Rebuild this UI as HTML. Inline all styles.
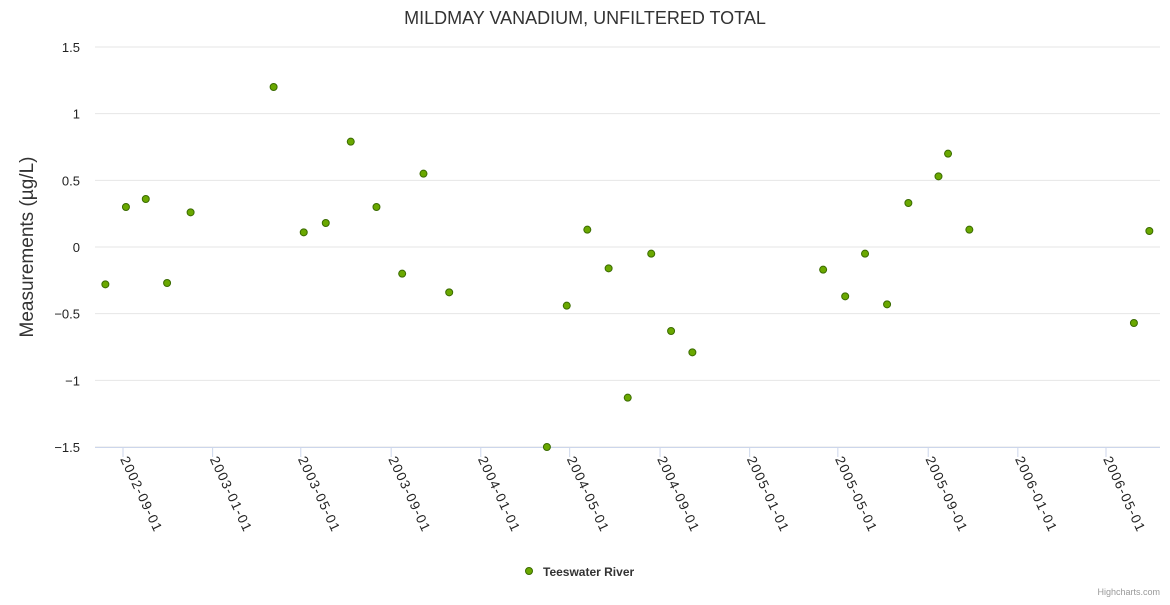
<!DOCTYPE html>
<html><head><meta charset="utf-8"><style>
body{margin:0;background:#fff;font-family:"Liberation Sans",sans-serif}
svg text{font-family:"Liberation Sans",sans-serif}
</style></head><body>
<svg id="c" width="1170" height="600">
<text x="585" y="24" text-anchor="middle" font-size="18" fill="#333">MILDMAY VANADIUM, UNFILTERED TOTAL</text>
<text transform="translate(33,247) rotate(-90)" text-anchor="middle" font-size="19" fill="#333">Measurements (µg/L)</text>
<g id="grid"></g><g id="xax"></g><g id="pts"></g>
<g>
<circle cx="529" cy="571" r="3.5" fill="#6aa800" stroke="#3a6b00" stroke-width="1"/>
<text x="543" y="576" font-size="12" font-weight="bold" fill="#333">Teeswater River</text></g>
<text x="1160" y="595" text-anchor="end" font-size="9" fill="#999">Highcharts.com</text>
</svg>
<script>
const dates=["2002-08-08","2002-09-05","2002-10-02","2002-10-31","2002-12-02","2003-03-25","2003-05-05","2003-06-04","2003-07-08","2003-08-12","2003-09-16","2003-10-15","2003-11-19","2004-03-31","2004-04-27","2004-05-25","2004-06-23","2004-07-19","2004-08-20","2004-09-16","2004-10-15","2005-04-11","2005-05-11","2005-06-07","2005-07-07","2005-08-05","2005-09-15","2005-09-28","2005-10-27","2006-06-08","2006-06-29"];
const values=[-0.28,0.30,0.36,-0.27,0.26,1.20,0.11,0.18,0.79,0.30,-0.20,0.55,-0.34,-1.50,-0.44,0.13,-0.16,-1.13,-0.05,-0.63,-0.79,-0.17,-0.37,-0.05,-0.43,0.33,0.53,0.70,0.13,-0.57,0.12];
const yTicks=[1.5,1,0.5,0,-0.5,-1,-1.5];
const yLabels=["1.5","1","0.5","0","−0.5","−1","−1.5"];
const xTicks=["2002-09-01","2003-01-01","2003-05-01","2003-09-01","2004-01-01","2004-05-01","2004-09-01","2005-01-01","2005-05-01","2005-09-01","2006-01-01","2006-05-01"];
const NS="http://www.w3.org/2000/svg";
const t=d=>Date.parse(d+"T00:00:00Z");
const x0=t("2002-09-01"),x1=t("2006-05-01");
const X=d=>123+(t(d)-x0)/(x1-x0)*(1106-123);
const Y=v=>247-v*133.33;
function mk(tag,p,a){const e=document.createElementNS(NS,tag);for(const k in a)e.setAttribute(k,a[k]);p.appendChild(e);return e;}
const g=document.getElementById('grid');
yTicks.forEach((v,i)=>{
 const l=mk('line',g,{x1:95,x2:1160,y1:Y(v),y2:Y(v),stroke:'#e6e6e6'});
 
 
 const tx=mk('text',g,{x:80,y:Y(v)+5,'text-anchor':'end','font-size':13,fill:'#222'});
 tx.textContent=yLabels[i];
 
 
});
const xa=document.getElementById('xax');
const ax=mk('line',xa,{x1:95,x2:1160,y1:447.5,y2:447.5,stroke:'#ccd6eb'});


xTicks.forEach(d=>{
 const x=X(d);
 const tk=mk('line',xa,{x1:x,x2:x,y1:447,y2:457,stroke:'#ccd6eb'});
 
 
 const tx=mk('text',xa,{transform:`translate(${x-3},${459}) rotate(65)`,'font-size':13.5,'letter-spacing':1.3,fill:'#222'});
 tx.textContent=d;
 
 
});
const p=document.getElementById('pts');
dates.forEach((d,i)=>{
 const c=mk('circle',p,{cx:X(d),cy:Y(values[i]),r:3.5,fill:'#6aa800',stroke:'#3a6b00','stroke-width':1});
 
 
});
</script>
</body></html>
